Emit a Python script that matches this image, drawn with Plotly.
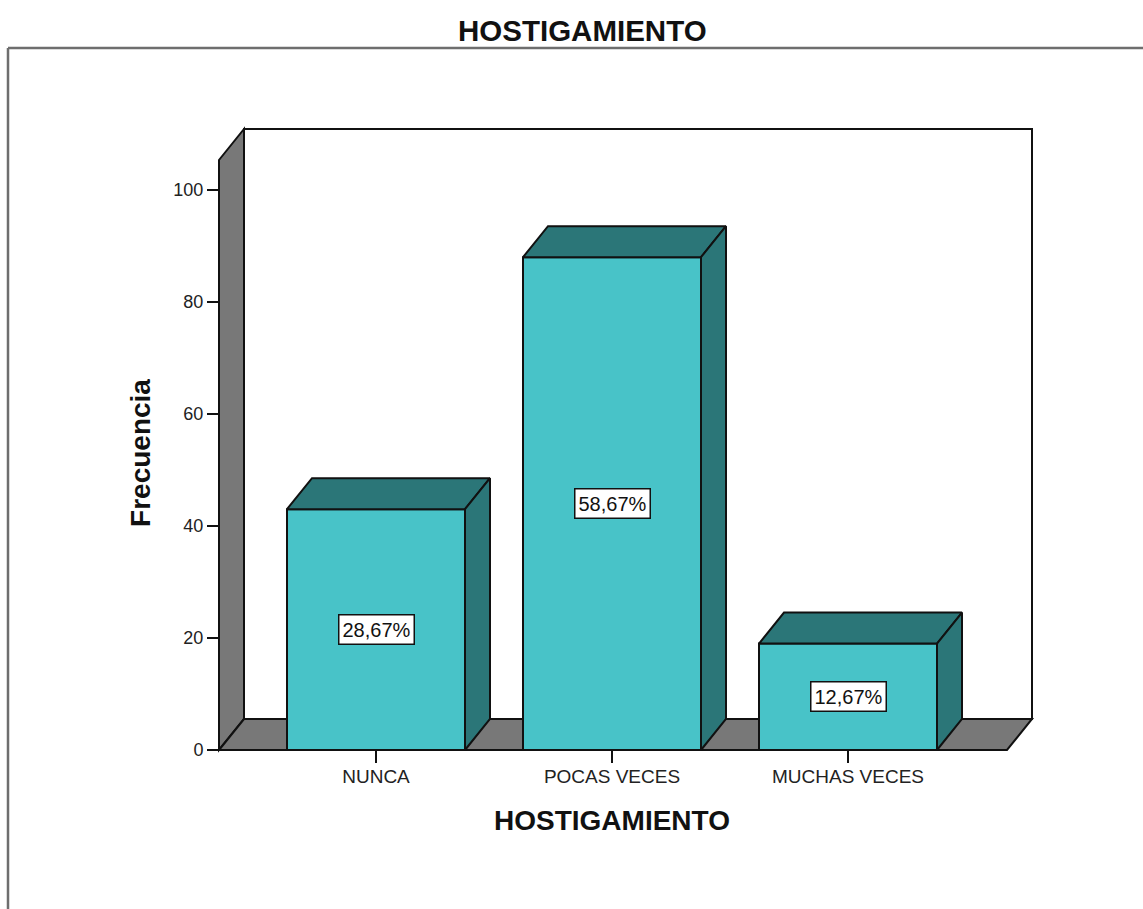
import plotly.graph_objects as go

title = "HOSTIGAMIENTO"
x_title = "HOSTIGAMIENTO"
y_title = "Frecuencia"
categories = ["NUNCA", "POCAS VECES", "MUCHAS VECES"]
frequencies = [43, 88, 19]
percent_labels = ["28,67%", "58,67%", "12,67%"]
y_ticks = [0, 20, 40, 60, 80, 100]

W, H = 1143, 909
PX_X, PX_Y = 236.0, 5.6          # pixels per axis unit
X0_PX, Y0_PX = 376.0, 750.0      # pixel of category 0 and of value 0
L, R, T, B = 184, 1040, 120, 786 # plot-area pixels
FONT = "Liberation Sans"
GRAY, TEAL, DARK, LINE = "#787878", "#48c3c8", "#2b7678", "#111111"

bar_w = 178 / PX_X
dx, dy = 25 / PX_X, 31 / PX_Y
left = (219 - X0_PX) / PX_X
right = (1007 - X0_PX) / PX_X
wall_top = 105.36
xs = list(range(len(categories)))


def path(points):
    return "M" + " L".join(f"{a},{b}" for a, b in points) + " Z"


shapes = [
    dict(type="path", layer="below", xref="x", yref="y", fillcolor=GRAY,
         line=dict(color=LINE, width=2),
         path=path([(left, 0), (left, wall_top), (left + dx, wall_top + dy), (left + dx, dy)])),
    dict(type="path", layer="below", xref="x", yref="y", fillcolor="white",
         line=dict(color=LINE, width=2),
         path=path([(left + dx, dy), (left + dx, wall_top + dy), (right + dx, wall_top + dy), (right + dx, dy)])),
    dict(type="path", layer="below", xref="x", yref="y", fillcolor=GRAY,
         line=dict(color=LINE, width=2),
         path=path([(left, 0), (left + dx, dy), (right + dx, dy), (right, 0)])),
    # outer frame
    dict(type="line", layer="below", xref="paper", yref="paper",
         x0=(8 - L) / (R - L), x1=(W - L) / (R - L),
         y0=(B - 48) / (B - T), y1=(B - 48) / (B - T), line=dict(color="#6e6e6e", width=2.5)),
    dict(type="line", layer="below", xref="paper", yref="paper",
         x0=(8 - L) / (R - L), x1=(8 - L) / (R - L),
         y0=(B - 48) / (B - T), y1=(B - H) / (B - T), line=dict(color="#6e6e6e", width=2.5)),
]

fig = go.Figure()
fig.add_trace(go.Bar(x=xs, y=frequencies, width=bar_w, marker=dict(color=TEAL, line=dict(color=LINE, width=2)),
                     showlegend=False, hoverinfo="skip"))

for x, v in zip(xs, frequencies):
    a, b = x - bar_w / 2, x + bar_w / 2
    top_x = [a, a + dx, b + dx, b, a]
    top_y = [v, v + dy, v + dy, v, v]
    side_x = [b, b + dx, b + dx, b, b]
    side_y = [0, dy, v + dy, v, 0]
    for fx, fy in ((top_x, top_y), (side_x, side_y)):
        fig.add_trace(go.Scatter(x=fx, y=fy, mode="lines", fill="toself", fillcolor=DARK,
                                 line=dict(color=LINE, width=2), showlegend=False,
                                 hoverinfo="skip", cliponaxis=False))

annotations = [
    dict(x=x, y=v / 2, text=t, showarrow=False, bgcolor="white", bordercolor=LINE, borderwidth=1.5,
         borderpad=3, font=dict(family=FONT, size=20, color="#111"))
    for x, v, t in zip(xs, frequencies, percent_labels)
]
annotations.append(dict(text=f"<b>{title}</b>", xref="paper", yref="paper",
                        x=(582 - L) / (R - L), y=(B - 30) / (B - T), yanchor="middle", showarrow=False,
                        font=dict(family=FONT, size=29.5, color="#111")))

fig.update_layout(
    width=W, height=H, autosize=False,
    margin=dict(l=L, r=W - R, t=T, b=H - B, pad=0),
    paper_bgcolor="white", plot_bgcolor="rgba(0,0,0,0)",
    shapes=shapes, annotations=annotations, showlegend=False,
    xaxis=dict(range=[(L - X0_PX) / PX_X, (R - X0_PX) / PX_X], tickmode="array", tickvals=xs,
               ticktext=categories, ticks="outside", ticklen=12, tickwidth=1.5, tickcolor=LINE,
               ticklabelstandoff=-3,
               showgrid=False, zeroline=False, showline=False, anchor="free",
               position=(B - Y0_PX) / (B - T), automargin=False,
               tickfont=dict(family=FONT, size=19, color="#222"),
               title=dict(text=f"<b>{x_title}</b>", font=dict(family=FONT, size=28, color="#111"), standoff=24)),
    yaxis=dict(range=[(Y0_PX - B) / PX_Y, (Y0_PX - T) / PX_Y], tickmode="array", tickvals=y_ticks,
               ticks="outside", ticklen=12, tickwidth=1.5, tickcolor=LINE,
               showgrid=False, zeroline=False, showline=False, anchor="free",
               position=(219 - L) / (R - L), automargin=False,
               tickfont=dict(family=FONT, size=18, color="#222"),
               title=dict(text=f"<b>{y_title}</b>", font=dict(family=FONT, size=28, color="#111"), standoff=13)),
)

fig.write_html("out.html", config=dict(displayModeBar=False),
               post_script="document.body.style.margin='0';document.documentElement.style.overflow='hidden';")
